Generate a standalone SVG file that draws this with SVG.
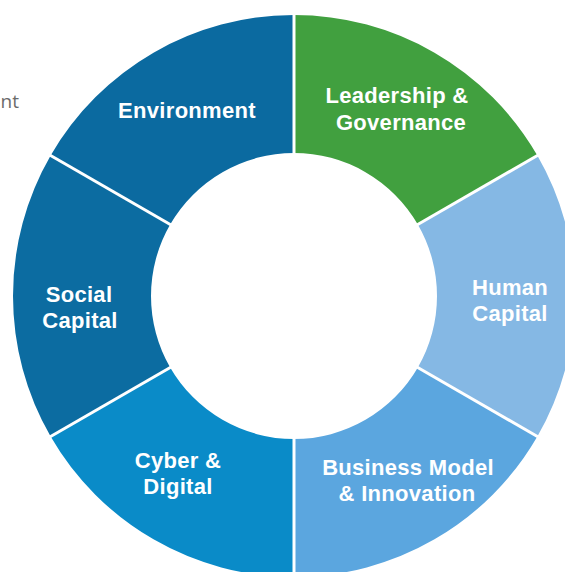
<svg xmlns="http://www.w3.org/2000/svg" width="565" height="572" viewBox="0 0 565 572">
  <style>
    .seg { stroke: none; }
    .lbl { font-family: "Liberation Sans", Arial, sans-serif; font-weight: bold; font-size: 22px; fill: #ffffff; text-anchor: middle; letter-spacing: 0.3px; }
    .sep { stroke: #ffffff; stroke-width: 3; fill: none; }
    .side { font-family: "Open Sans", "Liberation Sans", sans-serif; font-size: 19px; fill: #6b6b6b; }
  </style>
  <rect width="565" height="572" fill="#ffffff"/>

  <!-- partial side caption -->
  <text class="side" x="19" y="108" text-anchor="end">nt</text>

  <!-- donut ring, centre (294,296), outer r 281, inner r 143 -->
  <g id="environment">
    <path class="seg" fill="#0b6aa0" d="M50.65,155.5 A281,281 0 0 1 294,15 L294,153 A143,143 0 0 0 170.16,224.5 Z"/>
    <text class="lbl" x="187" y="118">Environment</text>
  </g>
  <g id="leadership-governance">
    <path class="seg" fill="#41a03f" d="M294,15 A281,281 0 0 1 537.35,155.5 L417.84,224.5 A143,143 0 0 0 294,153 Z"/>
    <text class="lbl" x="397" y="103">Leadership &amp;</text>
    <text class="lbl" x="401" y="130">Governance</text>
  </g>
  <g id="human-capital">
    <path class="seg" fill="#85b8e4" d="M537.35,155.5 A281,281 0 0 1 537.35,436.5 L417.84,367.5 A143,143 0 0 0 417.84,224.5 Z"/>
    <text class="lbl" x="510" y="295">Human</text>
    <text class="lbl" x="510" y="321">Capital</text>
  </g>
  <g id="business-model-innovation">
    <path class="seg" fill="#5ba6df" d="M537.35,436.5 A281,281 0 0 1 294,577 L294,439 A143,143 0 0 0 417.84,367.5 Z"/>
    <text class="lbl" x="408" y="475">Business Model</text>
    <text class="lbl" x="407" y="501">&amp; Innovation</text>
  </g>
  <g id="cyber-digital">
    <path class="seg" fill="#0a8bc8" d="M294,577 A281,281 0 0 1 50.65,436.5 L170.16,367.5 A143,143 0 0 0 294,439 Z"/>
    <text class="lbl" x="178" y="468">Cyber &amp;</text>
    <text class="lbl" x="178" y="494">Digital</text>
  </g>
  <g id="social-capital">
    <path class="seg" fill="#0c6ca1" d="M50.65,436.5 A281,281 0 0 1 50.65,155.5 L170.16,224.5 A143,143 0 0 0 170.16,367.5 Z"/>
    <text class="lbl" x="79" y="302">Social</text>
    <text class="lbl" x="80" y="328">Capital</text>
  </g>

  <!-- white separators between sectors -->
  <g id="separators">
    <line class="sep" x1="294" y1="12" x2="294" y2="155"/>
    <line class="sep" x1="540" y1="154" x2="416" y2="225.5"/>
    <line class="sep" x1="540" y1="438" x2="416" y2="366.5"/>
    <line class="sep" x1="294" y1="437" x2="294" y2="580"/>
    <line class="sep" x1="48" y1="438" x2="172" y2="366.5"/>
    <line class="sep" x1="48" y1="154" x2="172" y2="225.5"/>
  </g>
</svg>
